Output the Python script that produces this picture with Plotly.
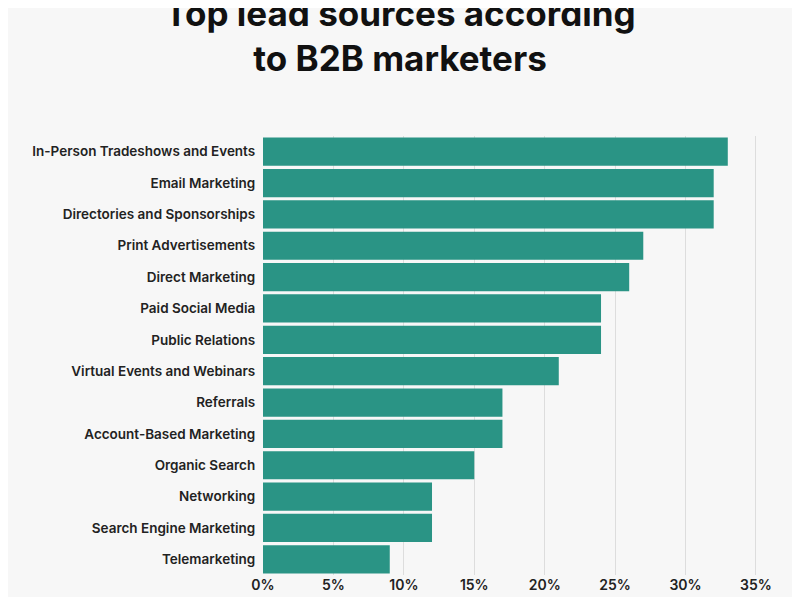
import plotly.graph_objects as go

sources = ["In-Person Tradeshows and Events", "Email Marketing", "Directories and Sponsorships",
           "Print Advertisements", "Direct Marketing", "Paid Social Media", "Public Relations",
           "Virtual Events and Webinars", "Referrals", "Account-Based Marketing", "Organic Search",
           "Networking", "Search Engine Marketing", "Telemarketing"]
share = [33, 32, 32, 27, 26, 24, 24, 21, 17, 17, 15, 12, 12, 9]
tick_vals = [0, 5, 10, 15, 20, 25, 30, 35]
tick_text = [f"{v}%" for v in tick_vals]

fig = go.Figure(go.Bar(
    x=share, y=sources, orientation="h",
    marker=dict(color="#2a9485", line=dict(width=0)),
    hovertemplate="%{y}: %{x}%<extra></extra>"))

fig.update_layout(
    autosize=True,
    paper_bgcolor="#f7f7f7", plot_bgcolor="#f7f7f7",
    margin=dict(l=255, r=29, t=128, b=30),
    title=dict(text="<b>Top lead sources according<br>to B2B marketers</b>",
               x=0.5, xanchor="center", y=0.97, yanchor="top",
               font=dict(family="Inter", size=35, color="#111111")),
    font=dict(family="Inter", color="#222222"),
    bargap=0.1, showlegend=False)

fig.update_xaxes(range=[0, 35.5], tickvals=tick_vals, ticktext=tick_text,
                 showgrid=True, gridcolor="#dddddd", zeroline=False,
                 tickfont=dict(size=14, color="#222222", weight=600), fixedrange=True)
fig.update_yaxes(autorange="reversed", ticksuffix="  ",
                 tickfont=dict(size=13.5, color="#222222", family="Inter", weight=600),
                 showgrid=False, fixedrange=True)

fig.write_html("out.html", default_width="100%", default_height="100vh",
               config={"displayModeBar": False})
